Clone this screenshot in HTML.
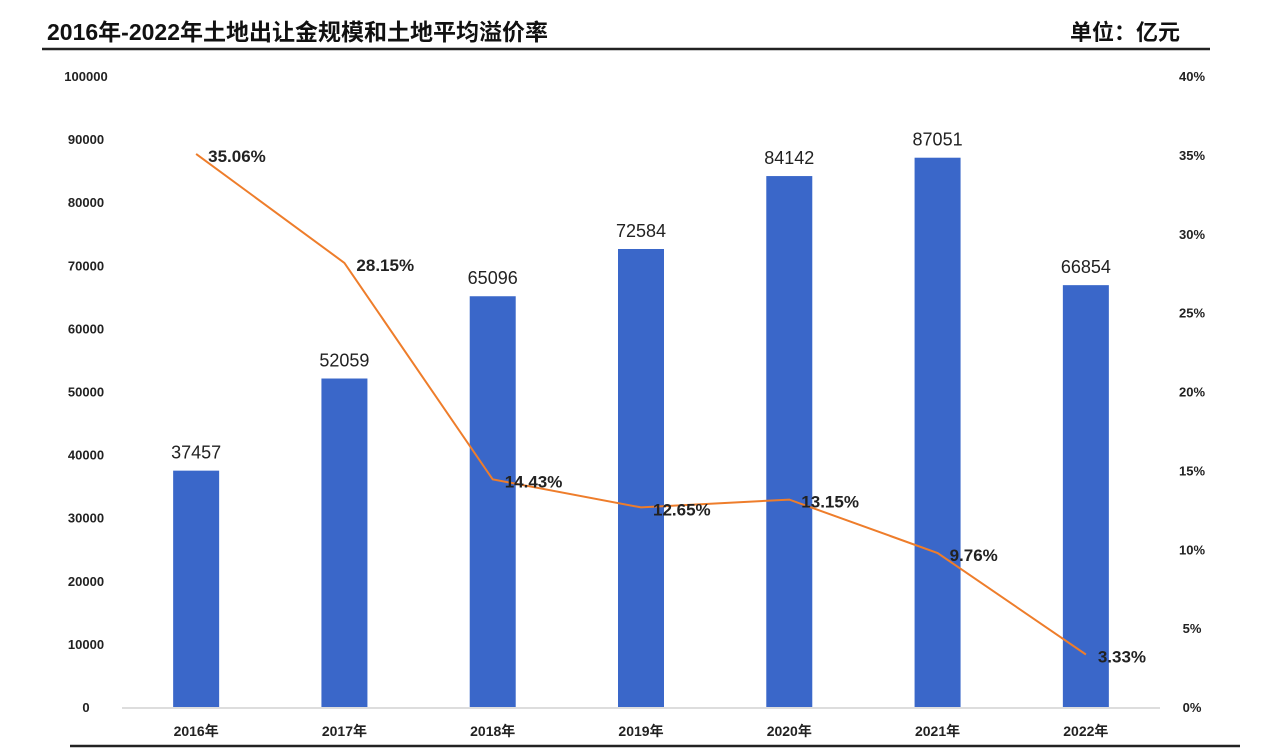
<!DOCTYPE html>
<html><head><meta charset="utf-8">
<style>
html,body{margin:0;padding:0;background:#fff;width:1280px;height:756px;overflow:hidden}
svg{display:block}
text{font-family:"Liberation Sans","Noto Sans CJK SC",sans-serif}
</style></head><body>
<svg id="chart" width="1280" height="756">
<text x="47" y="40" font-size="23" font-weight="600" fill="#111">2016年-2022年土地出让金规模和土地平均溢价率</text>
<text x="1180" y="40" font-size="22" font-weight="600" fill="#111" text-anchor="end">单位：亿元</text>
<line x1="42" y1="49" x2="1210" y2="49" stroke="#222" stroke-width="2.5"/>
<line x1="70" y1="746" x2="1240" y2="746" stroke="#222" stroke-width="2.5"/>
<line x1="122" y1="708" x2="1160" y2="708" stroke="#bbb" stroke-width="1"/>
<g id="bars"></g><g id="line"></g><g id="labels"></g><g id="axes"></g>
</svg>
<script>
const categories=["2016年","2017年","2018年","2019年","2020年","2021年","2022年"];
const amounts=[37457,52059,65096,72584,84142,87051,66854];
const premiums=[35.06,28.15,14.43,12.65,13.15,9.76,3.33];
const leftTicks=[0,10000,20000,30000,40000,50000,60000,70000,80000,90000,100000];
const rightTicks=[0,5,10,15,20,25,30,35,40];

const NS="http://www.w3.org/2000/svg";
const x0=122,x1=1160,yTop=76,yBot=707;
const band=(x1-x0)/categories.length;
const xC=i=>x0+band*(i+0.5);
const yL=v=>yBot-(v/100000)*(yBot-yTop);
const yR=v=>yBot-(v/40)*(yBot-yTop);
function mk(tag,attrs,parent,txt){const e=document.createElementNS(NS,tag);for(const k in attrs)e.setAttribute(k,attrs[k]);if(txt!==undefined)e.textContent=txt;document.getElementById(parent).appendChild(e);return e;}

leftTicks.forEach(t=>{const e=mk("text",{x:86,y:yL(t)+5,"font-size":13,"font-weight":"bold","text-anchor":"middle",fill:"#222"},"axes",t);

});
rightTicks.forEach(t=>{const e=mk("text",{x:1192,y:yR(t)+5,"font-size":13,"font-weight":"bold","text-anchor":"middle",fill:"#222"},"axes",t+"%");

});
categories.forEach((c,i)=>{const e=mk("text",{x:xC(i),y:736,"font-size":14,"font-weight":"bold","text-anchor":"middle",fill:"#222"},"axes",c);

});

const bw=46;
amounts.forEach((v,i)=>{const r=mk("rect",{x:xC(i)-bw/2,y:yL(v),width:bw,height:yBot-yL(v),fill:"#3a67c9"},"bars");


const t=mk("text",{x:xC(i),y:yL(v)-12,"font-size":18,"text-anchor":"middle",fill:"#222"},"labels",v);

});

const pts=premiums.map((v,i)=>xC(i).toFixed(1)+","+yR(v).toFixed(1)).join(" ");
const pl=mk("polyline",{points:pts,fill:"none",stroke:"#ee7d2b","stroke-width":2},"line");


premiums.forEach((v,i)=>{const t=mk("text",{x:xC(i)+12,y:yR(v)+8,"font-size":17,"font-weight":"bold",fill:"#222"},"labels",v.toFixed(2)+"%");

});
</script>
</body></html>
